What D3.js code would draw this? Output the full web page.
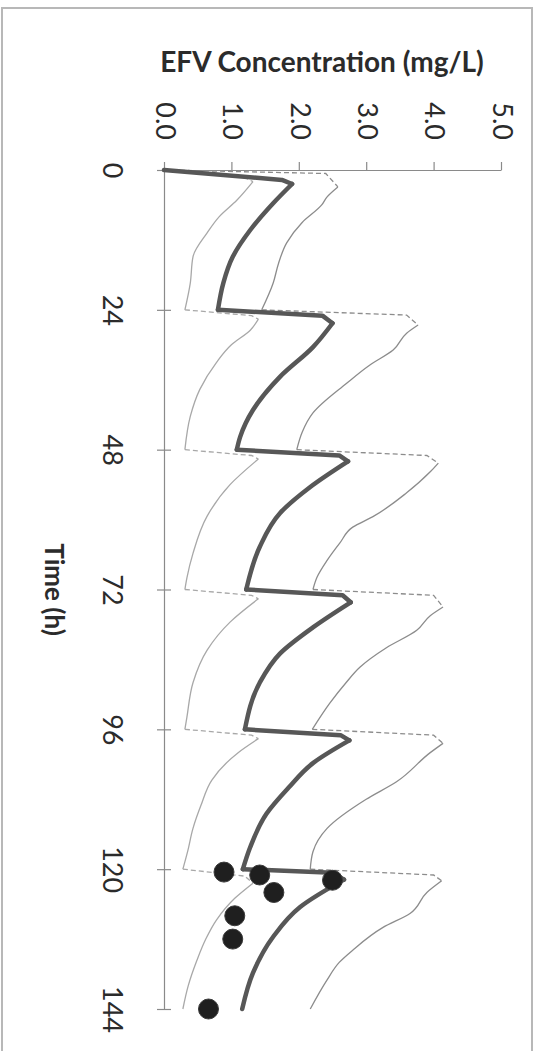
<!DOCTYPE html>
<html>
<head>
<meta charset="utf-8">
<script src="https://cdn.jsdelivr.net/npm/d3@7"></script>
<style>
  body { margin: 0; background: #fff; }
  text { font-family: Lato, "Open Sans", sans-serif; fill: #2b2b2b; }
</style>
</head>
<body>
<svg id="chart"></svg>
<script>
// Dose times (h) and tick values
const doseTimes = [0, 24, 48, 72, 96, 120, 144];
const timeTicks = [0, 24, 48, 72, 96, 120, 144];
const concTicks = [0, 1, 2, 3, 4, 5];

// Mean predicted concentration [time h, conc mg/L]
const meanConc = [
  [0, 0], [1.7, 1.75], [2.4, 1.9], [5.7, 1.62], [10.3, 1.28], [14.9, 1.02], [19.4, 0.88], [24, 0.8],
  [25, 2.35], [26.3, 2.5], [30.4, 2.21], [35.5, 1.72], [41.2, 1.32], [45.8, 1.13], [48, 1.08],
  [49, 2.6], [50, 2.73], [54.4, 2.17], [58.9, 1.72], [64.7, 1.42], [72, 1.22],
  [73, 2.65], [74.2, 2.77], [78.5, 2.21], [83, 1.72], [88, 1.42], [96, 1.2],
  [97, 2.62], [97.9, 2.75], [101.8, 2.21], [106, 1.85], [110.5, 1.52], [116.2, 1.28], [120, 1.17],
  [120.6, 2.5], [121.8, 2.67], [126.5, 2.02], [131.6, 1.62], [137.8, 1.32], [144, 1.16]
];

// Lower percentile
const lowerConc = [
  [0, 0], [1, 1.15], [2, 1.32], [5.2, 1.08], [8, 0.82], [10.8, 0.64], [14.9, 0.43], [19.4, 0.39], [24, 0.31],
  [25, 1.3], [25.6, 1.4], [27.5, 1.28], [30, 1.0], [33, 0.78], [37.7, 0.53], [42.3, 0.39], [48, 0.31],
  [49, 1.3], [49.6, 1.4], [54, 0.98], [59.4, 0.64], [65.8, 0.43], [70, 0.34], [72, 0.31],
  [73, 1.3], [73.6, 1.4], [77.6, 0.98], [82.4, 0.64], [88, 0.43], [93.9, 0.34], [96, 0.31],
  [97, 1.3], [97.6, 1.4], [100, 1.1], [104.7, 0.71], [109, 0.55], [113, 0.43], [117, 0.35], [120, 0.28],
  [121.2, 1.2], [122.4, 1.32], [125, 1.05], [128.7, 0.78], [132, 0.62], [135.6, 0.49], [140, 0.36], [144, 0.28]
];

// Upper percentile
const upperConc = [
  [0, 0], [0.6, 2.4], [2.9, 2.58], [4.6, 2.42], [6, 2.34], [9, 2.05], [12.5, 1.82], [16, 1.7], [19.4, 1.62], [24, 1.45],
  [24.9, 3.6], [26.6, 3.77], [28, 3.6], [30.9, 3.4], [33.5, 3.05], [36.6, 2.71], [41.7, 2.21], [45, 2.05], [48, 1.97],
  [49, 3.9], [50.3, 4.07], [51.8, 3.95], [55.4, 3.6], [59.5, 3.1], [61.3, 2.8], [64, 2.61], [67, 2.42], [69.9, 2.27], [72, 2.21],
  [73, 4.0], [75, 4.14], [76.5, 3.95], [79, 3.75], [82, 3.3], [85.3, 2.91], [88, 2.7], [91.5, 2.46], [96, 2.2],
  [97, 4.0], [98.4, 4.14], [100, 3.95], [105, 3.45], [108, 3.0], [113, 2.42], [117, 2.21], [120, 2.17],
  [121, 4.0], [122, 4.12], [124, 3.9], [127.6, 3.65], [130, 3.25], [133.9, 2.8], [136, 2.6], [139, 2.42], [144, 2.17]
];

// Observed concentrations
const observed = [
  [120.5, 0.89], [121, 1.42], [121.9, 2.5], [124, 1.63], [128, 1.05], [132, 1.02], [144, 0.66]
];

const width = 537, height = 1051;

const svg = d3.select("#chart")
  .attr("width", width)
  .attr("height", height);

// Outer frame
svg.append("rect")
  .attr("x", 2).attr("y", 8)
  .attr("width", 530).attr("height", 1070)
  .attr("fill", "none")
  .attr("stroke", "#b8b8b8")
  .attr("stroke-width", 2);

// Chart is rotated: time runs down the page, concentration to the right
const concScale = d3.scaleLinear().domain([0, 5]).range([164, 501]);
const timeScale = d3.scaleLinear().domain([0, 144]).range([170, 1009]);

// Concentration axis (top)
const concAxis = svg.append("g")
  .attr("transform", `translate(0, ${timeScale(0)})`)
  .call(d3.axisTop(concScale).tickValues(concTicks).tickSize(8).tickSizeOuter(0).tickFormat(d3.format(".1f")));

concAxis.selectAll("text")
  .attr("x", 0).attr("y", 0).attr("dy", "0.32em")
  .attr("text-anchor", "end")
  .attr("transform", "translate(0, -30) rotate(90)")
  .style("font-size", "27px");

// Time axis (left)
const timeAxis = svg.append("g")
  .attr("transform", `translate(${concScale(0)}, 0)`)
  .call(d3.axisLeft(timeScale).tickValues(timeTicks).tickSize(7).tickSizeOuter(0));

timeAxis.selectAll(".tick line").attr("x1", 7);
timeAxis.selectAll("text")
  .attr("x", 0).attr("y", 0).attr("dy", 0)
  .attr("text-anchor", "middle")
  .attr("transform", "translate(-61, 0) rotate(90)")
  .style("font-size", "27px");

svg.selectAll(".domain, .tick line")
  .attr("stroke", "#8a8a8a")
  .attr("stroke-width", 1.2);
svg.selectAll(".tick text").attr("fill", "#262626");

// Axis titles
svg.append("text")
  .attr("x", 322).attr("y", 72)
  .attr("text-anchor", "middle")
  .style("font-size", "28px")
  .style("font-weight", "bold")
  .text("EFV Concentration (mg/L)");

svg.append("text")
  .attr("transform", `translate(45, ${timeScale(72)}) rotate(90)`)
  .attr("text-anchor", "middle")
  .style("font-size", "26px")
  .style("font-weight", "bold")
  .text("Time (h)");

// Split a series into rise and decay parts for each dose
function splitDoses(pts) {
  const parts = [];
  for (let i = 0; i < doseTimes.length - 1; i++) {
    const seg = pts.filter(p => p[0] >= doseTimes[i] && p[0] <= doseTimes[i + 1]);
    const k = d3.maxIndex(seg, p => p[1]);
    parts.push({ rise: seg.slice(0, k + 1), decay: seg.slice(k) });
  }
  return parts;
}

const riseLine = d3.line()
  .x(d => concScale(d[1]))
  .y(d => timeScale(d[0]));

const decayLine = d3.line()
  .x(d => concScale(d[1]))
  .y(d => timeScale(d[0]))
  .curve(d3.curveMonotoneY);

// Percentile lines: thin, dashed during absorption
[[lowerConc, "#a8a8a8"], [upperConc, "#8c8c8c"]].forEach(([series, color]) => {
  splitDoses(series).forEach(part => {
    svg.append("path")
      .attr("d", riseLine(part.rise))
      .attr("fill", "none")
      .attr("stroke", color)
      .attr("stroke-width", 1.3)
      .attr("stroke-dasharray", "5,3");
    svg.append("path")
      .attr("d", decayLine(part.decay))
      .attr("fill", "none")
      .attr("stroke", color)
      .attr("stroke-width", 1.3);
  });
});

// Mean line: straight rises, smooth decays
const meanGroup = svg.append("g")
  .attr("fill", "none")
  .attr("stroke", "#575757")
  .attr("stroke-width", 4.5)
  .attr("stroke-linejoin", "round")
  .attr("stroke-linecap", "round");

splitDoses(meanConc).forEach(part => {
  meanGroup.append("path").attr("d", riseLine(part.rise));
  meanGroup.append("path").attr("d", decayLine(part.decay));
});

// Observed points
svg.selectAll(".obs")
  .data(observed)
  .enter().append("circle")
  .attr("class", "obs")
  .attr("cx", d => concScale(d[1]))
  .attr("cy", d => timeScale(d[0]))
  .attr("r", 10)
  .attr("fill", "#1f1f1f")
  .attr("stroke", "#3a3a3a")
  .attr("stroke-width", 1);
</script>
</body>
</html>
